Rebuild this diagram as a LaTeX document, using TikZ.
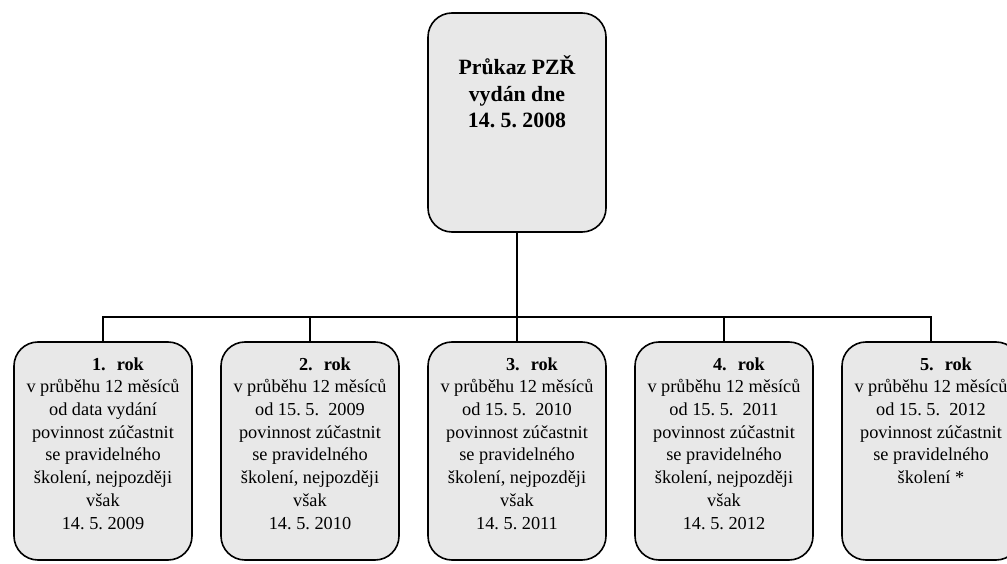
\documentclass[tikz,border=0pt]{standalone}
\usepackage{fontspec}
\setmainfont{Liberation Serif}
\frenchspacing
\begin{document}
\begin{tikzpicture}[x=1pt,y=-1pt,
  box/.style={draw=black, line width=1.6pt, fill=black!9, rounded corners=24pt,
    minimum width=178pt, minimum height=218pt, inner sep=0pt},
  conn/.style={line width=2.8pt, black, line join=miter},
  txt/.style={align=center, inner sep=0pt, anchor=north,
    font=\fontsize{18.3}{22.7}\selectfont},
  toptxt/.style={align=center, inner sep=0pt, anchor=north,
    font=\bfseries\fontsize{21.8}{26.7}\selectfont}]
\useasboundingbox (0,0) rectangle (1007,564);
\clip (0,0) rectangle (1007,564);

\node[box, minimum height=219pt] (top) at (517,122.5) {};
\node[toptxt] (toptext) at ([yshift=-43pt]top.north)
  {Průkaz PZŘ\\vydán dne\\14. 5. 2008};

\node[box] (b1) at (103,451) {};
\node[box] (b2) at (310,451) {};
\node[box] (b3) at (517,451) {};
\node[box] (b4) at (724,451) {};
\node[box] (b5) at (931,451) {};

\node[txt] (t1) at ([yshift=-16pt]b1.north)
  {\hspace*{30pt}\textbf{1.\hspace{0.6em}rok}\\v průběhu 12 měsíců\\od data vydání\\povinnost zúčastnit\\se pravidelného\\školení, nejpozději\\však\\14. 5. 2009};
\node[txt] (t2) at ([yshift=-16pt]b2.north)
  {\hspace*{30pt}\textbf{2.\hspace{0.6em}rok}\\v průběhu 12 měsíců\\od 15. 5.\ \ 2009\\povinnost zúčastnit\\se pravidelného\\školení, nejpozději\\však\\14. 5. 2010};
\node[txt] (t3) at ([yshift=-16pt]b3.north)
  {\hspace*{30pt}\textbf{3.\hspace{0.6em}rok}\\v průběhu 12 měsíců\\od 15. 5.\ \ 2010\\povinnost zúčastnit\\se pravidelného\\školení, nejpozději\\však\\14. 5. 2011};
\node[txt] (t4) at ([yshift=-16pt]b4.north)
  {\hspace*{30pt}\textbf{4.\hspace{0.6em}rok}\\v průběhu 12 měsíců\\od 15. 5.\ \ 2011\\povinnost zúčastnit\\se pravidelného\\školení, nejpozději\\však\\14. 5. 2012};
\node[txt] (t5) at ([yshift=-16pt]b5.north)
  {\hspace*{30pt}\textbf{5.\hspace{0.6em}rok}\\v průběhu 12 měsíců\\od 15. 5.\ \ 2012\\povinnost zúčastnit\\se pravidelného\\školení *};

\coordinate (j) at (517,317);
\draw[conn] (top.south) -- (j);
\draw[conn] (b1.north) |- (j) -| (b5.north);
\draw[conn] (b2.north) -- (b2.north |- j);
\draw[conn] (b3.north) -- (j);
\draw[conn] (b4.north) -- (b4.north |- j);
\end{tikzpicture}
\end{document}
